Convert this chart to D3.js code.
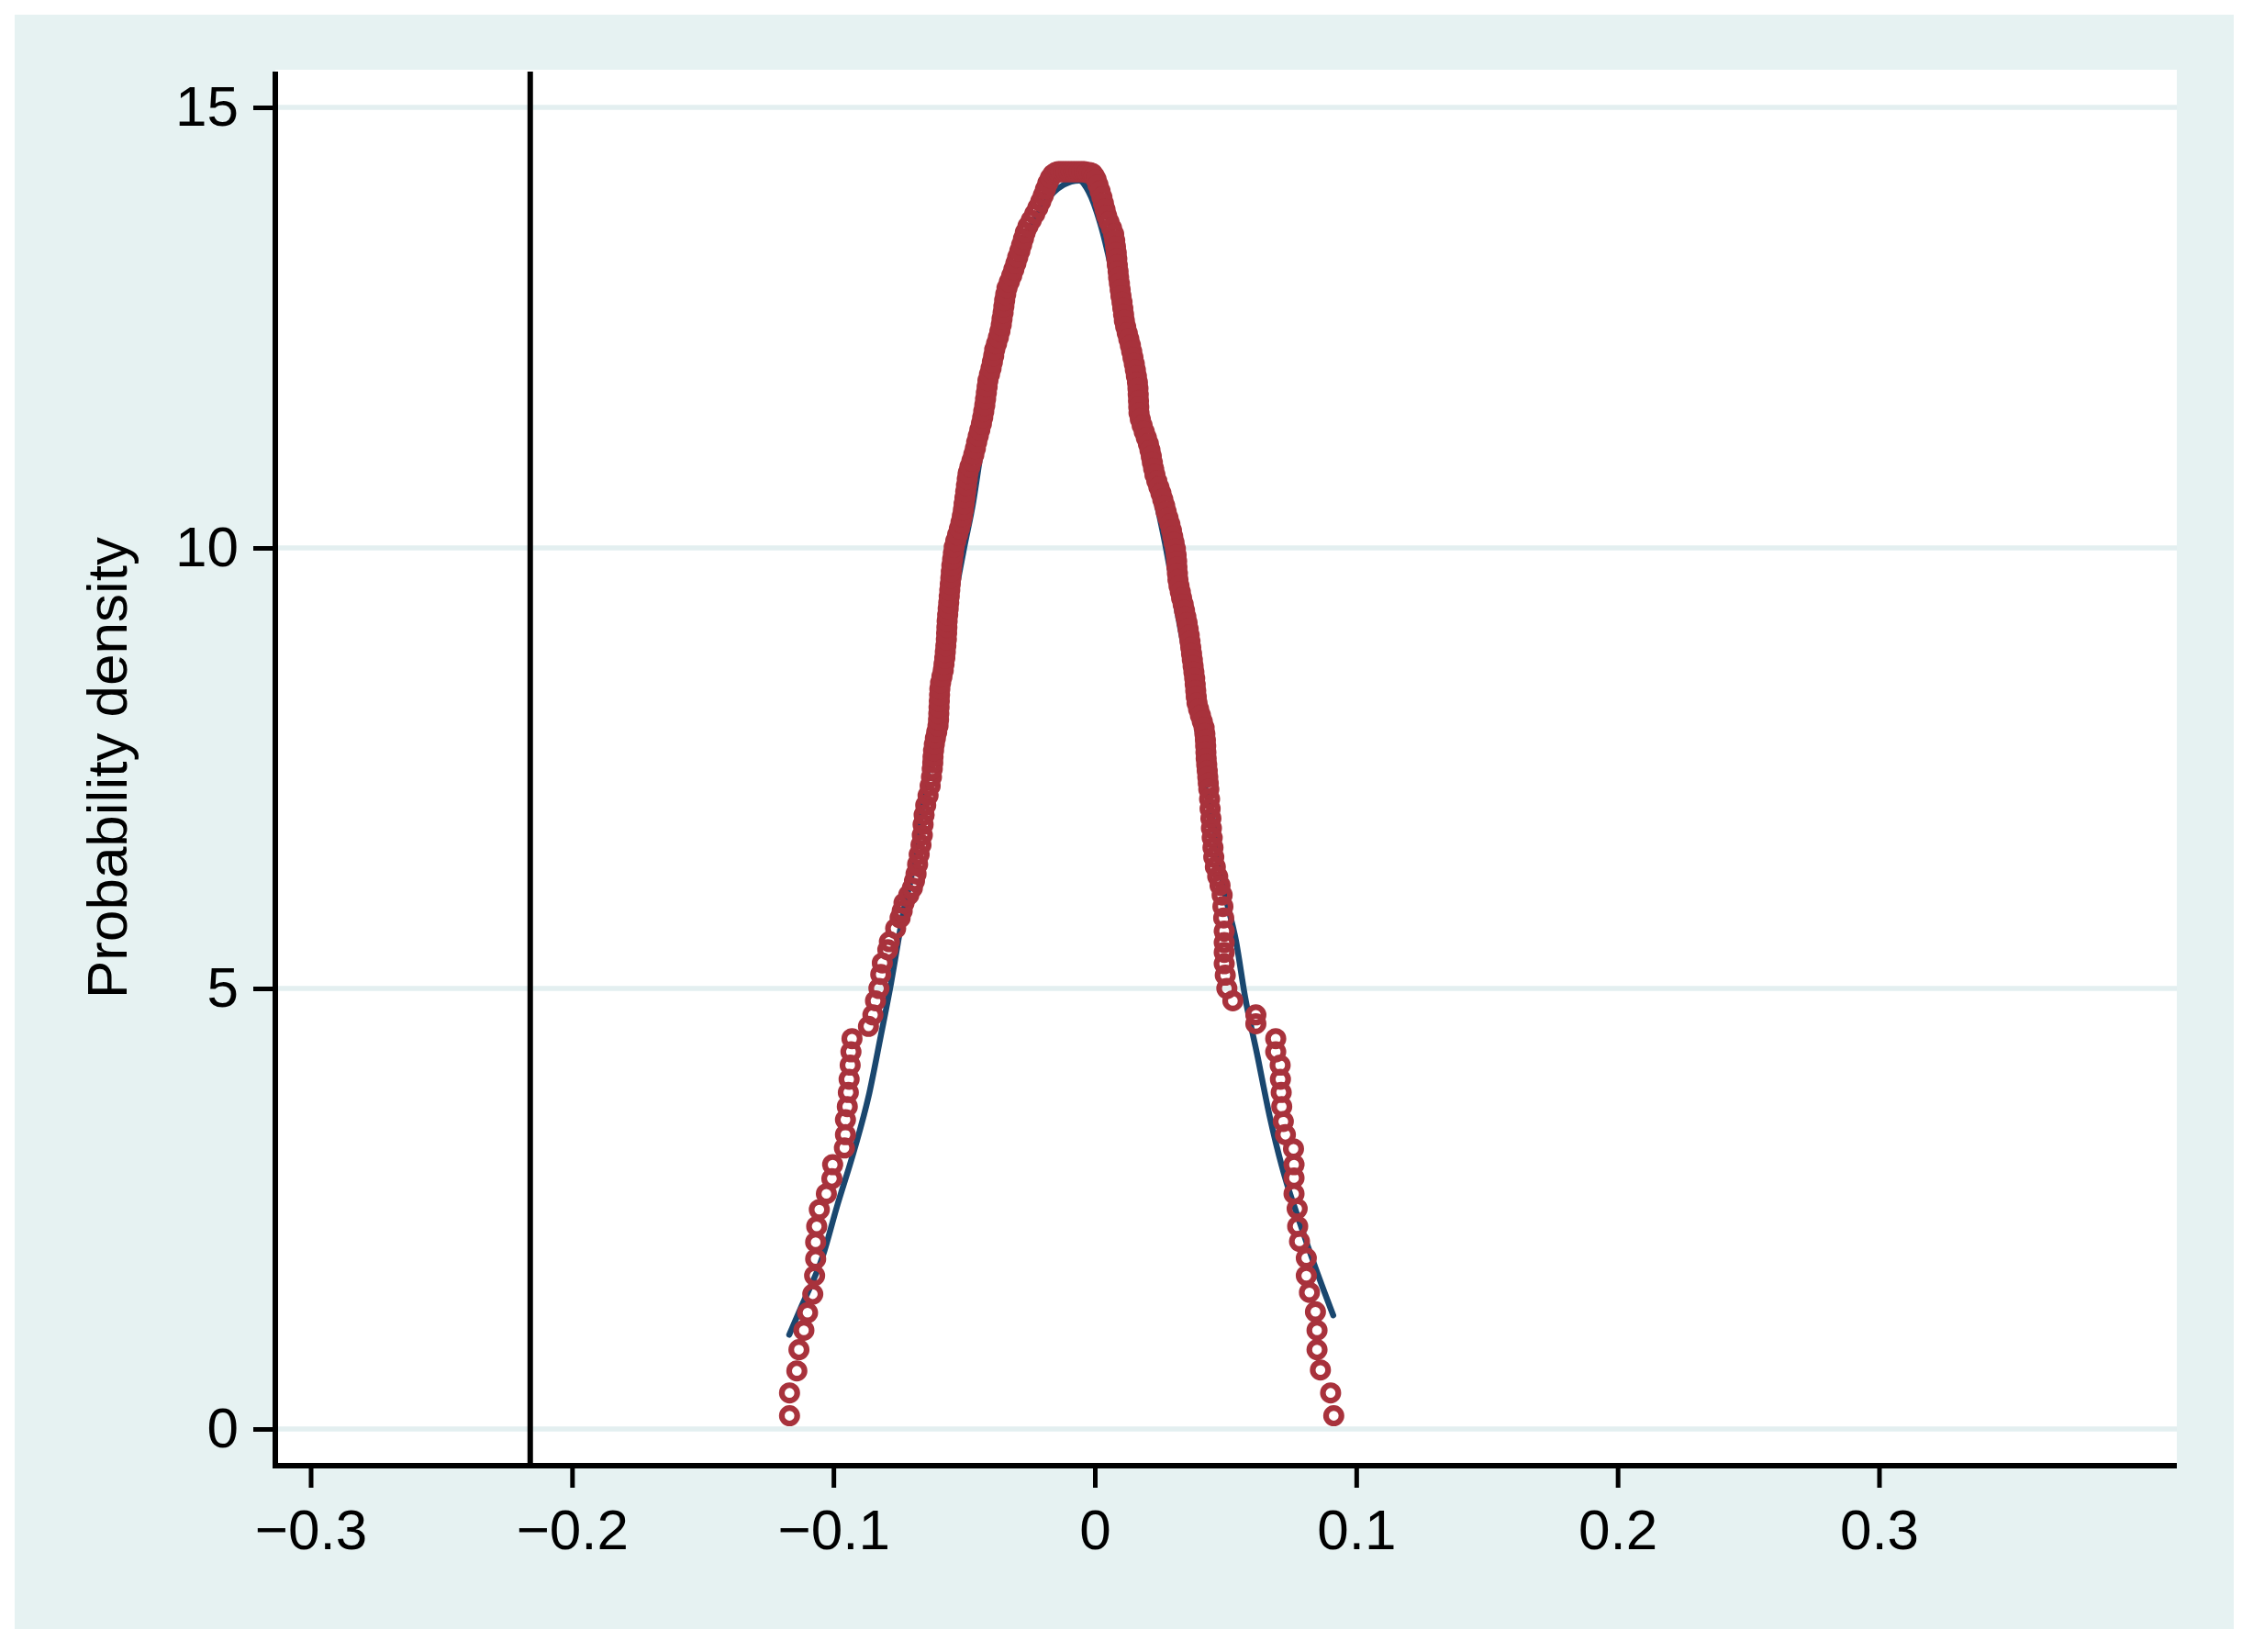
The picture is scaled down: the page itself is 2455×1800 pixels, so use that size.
<!DOCTYPE html>
<html><head><meta charset="utf-8">
<script src="https://cdn.jsdelivr.net/npm/d3@7"></script>
<style>
body{margin:0;background:#fff;}
svg{display:block;}
</style>
</head><body>
<svg id="chart" width="2455" height="1800"></svg>
<script>
// ---------------- DATA ----------------
const xTicks = [-0.3, -0.2, -0.1, 0, 0.1, 0.2, 0.3];
const yTicks = [0, 5, 10, 15];
const yTitle = "Probability density";
const referenceLineX = -0.216;

// hollow-circle series: [x, density]
const leftTail = [
  [-0.1168,0.15],[-0.1168,0.41],[-0.1140,0.66],[-0.1132,0.90],[-0.1113,1.12],[-0.1099,1.32],
  [-0.1079,1.53],[-0.1072,1.74],[-0.1068,1.93],[-0.1068,2.12],[-0.1064,2.30],[-0.1054,2.49],
  [-0.1027,2.67],[-0.1006,2.84],[-0.1003,3.00],[-0.0958,3.19],[-0.0954,3.34],[-0.0954,3.51],
  [-0.0947,3.66],[-0.0943,3.82],[-0.0940,3.97],[-0.0936,4.13],[-0.0933,4.28],[-0.0929,4.43],
  [-0.0866,4.57],[-0.0849,4.70],[-0.0839,4.86],[-0.0826,5.00],[-0.0819,5.16],[-0.0813,5.29],
  [-0.0792,5.44],[-0.0786,5.53],[-0.0762,5.68],[-0.0745,5.80],[-0.0737,5.88],[-0.0730,5.97],
  [-0.0712,6.06],[-0.0698,6.14],[-0.0690,6.22],[-0.0684,6.30]
];
const leftBody = [
  [-0.0678,6.41],[-0.0672,6.52],[-0.0665,6.63],[-0.0660,6.74],[-0.0657,6.86],[-0.0653,6.97],
  [-0.0647,7.08],[-0.0638,7.19],[-0.0630,7.30],[-0.0625,7.40],
  [-0.0622,7.49],[-0.0620,7.56],[-0.0619,7.63],[-0.0617,7.70],[-0.0614,7.77],[-0.0610,7.84],
  [-0.0605,7.91],[-0.0600,7.98],[-0.0598,8.05],[-0.0597,8.12],[-0.0596,8.19],[-0.0595,8.26],
  [-0.0594,8.33],[-0.0593,8.40],[-0.0590,8.47],[-0.0585,8.54],[-0.0580,8.61],[-0.0577,8.68],
  [-0.0574,8.75],[-0.0572,8.82],[-0.0570,8.89],[-0.0568,8.96],[-0.0567,9.03],[-0.0566,9.10],
  [-0.0565,9.17],[-0.0563,9.24],[-0.0561,9.31],[-0.0559,9.38],[-0.0557,9.45],[-0.0555,9.52],
  [-0.0553,9.59],[-0.0551,9.66],[-0.0549,9.73],[-0.0547,9.80],[-0.0544,9.87],[-0.0541,9.94],
  [-0.0538,10.01],[-0.0532,10.08],[-0.0525,10.15],[-0.0518,10.22],[-0.0512,10.29],[-0.0507,10.36],
  [-0.0503,10.43],[-0.0500,10.50],[-0.0497,10.57],[-0.0494,10.64],[-0.0491,10.71],[-0.0488,10.78],
  [-0.0485,10.85],[-0.0478,10.92],[-0.0470,10.99],[-0.0463,11.06],[-0.0457,11.13],[-0.0452,11.20],
  [-0.0446,11.27],[-0.0440,11.34],[-0.0434,11.41],[-0.0429,11.48],[-0.0425,11.55],[-0.0421,11.62],
  [-0.0418,11.69],[-0.0415,11.76],[-0.0412,11.83],[-0.0409,11.90],[-0.0403,11.97],[-0.0397,12.04],
  [-0.0392,12.11],[-0.0387,12.18],[-0.0383,12.25],[-0.0376,12.32],[-0.0369,12.39],[-0.0363,12.46],
  [-0.0358,12.53],[-0.0355,12.60],[-0.0351,12.67],[-0.0348,12.74],[-0.0345,12.81],[-0.0341,12.88],
  [-0.0336,12.95],[-0.0327,13.02],[-0.0318,13.09],[-0.0310,13.16],[-0.0302,13.23],[-0.0295,13.30],
  [-0.0287,13.37],[-0.0280,13.44],[-0.0273,13.51],[-0.0266,13.58],[-0.0256,13.65],[-0.0243,13.72],
  [-0.0230,13.79],[-0.0218,13.86],[-0.0207,13.93],[-0.0197,14.00],[-0.0189,14.07],[-0.0180,14.14],
  [-0.0170,14.20],[-0.0160,14.24],[-0.0150,14.26]
];
const peakTop = [
  [-0.0140,14.27],[-0.0130,14.27],[-0.0120,14.27],[-0.0110,14.27],[-0.0100,14.27],[-0.0090,14.27],
  [-0.0080,14.27],[-0.0070,14.27],[-0.0060,14.27],[-0.0050,14.27],[-0.0040,14.27],[-0.0030,14.26],
  [-0.0020,14.26],[-0.0010,14.25],[-0.0002,14.22],[0.0005,14.18],[0.0012,14.12]
];
const rightBody = [
  [0.0020,14.05],[0.0027,13.98],[0.0033,13.91],[0.0039,13.84],[0.0045,13.77],[0.0054,13.70],
  [0.0064,13.63],[0.0072,13.56],[0.0076,13.49],[0.0079,13.42],[0.0082,13.35],[0.0084,13.28],
  [0.0086,13.21],[0.0089,13.14],[0.0091,13.07],[0.0094,13.00],[0.0097,12.93],[0.0100,12.86],
  [0.0104,12.79],[0.0107,12.72],[0.0110,12.65],[0.0113,12.58],[0.0118,12.51],[0.0124,12.44],
  [0.0130,12.37],[0.0136,12.30],[0.0141,12.23],[0.0146,12.16],[0.0151,12.09],[0.0155,12.02],
  [0.0159,11.95],[0.0163,11.88],[0.0165,11.81],[0.0166,11.74],[0.0167,11.67],[0.0168,11.60],
  [0.0169,11.53],[0.0174,11.46],[0.0181,11.39],[0.0189,11.32],[0.0197,11.25],[0.0205,11.18],
  [0.0211,11.11],[0.0216,11.04],[0.0220,10.97],[0.0225,10.90],[0.0230,10.83],[0.0237,10.76],
  [0.0245,10.69],[0.0253,10.62],[0.0260,10.55],[0.0267,10.48],[0.0273,10.41],[0.0280,10.34],
  [0.0287,10.27],[0.0293,10.20],[0.0298,10.13],[0.0303,10.06],[0.0308,9.99],[0.0311,9.92],
  [0.0313,9.85],[0.0314,9.78],[0.0316,9.71],[0.0318,9.64],[0.0322,9.57],[0.0327,9.50],
  [0.0332,9.43],[0.0338,9.36],[0.0343,9.29],[0.0348,9.22],[0.0353,9.15],[0.0357,9.08],
  [0.0361,9.01],[0.0364,8.94],[0.0367,8.87],[0.0370,8.80],[0.0373,8.73],[0.0376,8.66],
  [0.0379,8.59],[0.0382,8.52],[0.0384,8.45],[0.0386,8.38],[0.0388,8.31],[0.0391,8.24],
  [0.0397,8.17],[0.0404,8.10],[0.0411,8.03],[0.0418,7.96],[0.0421,7.89],[0.0423,7.82],
  [0.0424,7.75],[0.0425,7.68],[0.0426,7.61],[0.0428,7.54],[0.0430,7.47],[0.0432,7.40],
  [0.0434,7.33],[0.0436,7.26],
  [0.0439,7.15],[0.0441,7.04],[0.0444,6.93],[0.0446,6.82],[0.0449,6.71],[0.0452,6.60],
  [0.0455,6.49],[0.0461,6.38]
];
const rightTail = [
  [0.0470,6.27],[0.0479,6.17],[0.0487,6.06],[0.0490,5.93],[0.0493,5.80],[0.0495,5.65],
  [0.0495,5.52],[0.0495,5.41],[0.0495,5.28],[0.0499,5.15],[0.0505,5.00],[0.0528,4.86],
  [0.0616,4.70],[0.0616,4.60],[0.0692,4.43],[0.0692,4.28],[0.0709,4.13],[0.0710,3.97],
  [0.0713,3.82],[0.0715,3.66],[0.0721,3.49],[0.0729,3.34],[0.0760,3.18],[0.0762,3.00],
  [0.0762,2.85],[0.0762,2.67],[0.0774,2.50],[0.0776,2.30],[0.0783,2.13],[0.0809,1.94],
  [0.0809,1.74],[0.0821,1.55],[0.0844,1.33],[0.0850,1.12],[0.0850,0.90],[0.0863,0.67],
  [0.0902,0.41],[0.0914,0.15]
];

// smooth line series: [x, density]
const curvePoints = [
  [-0.1169,1.07],[-0.1121,1.40],[-0.1041,1.96],[-0.0987,2.52],[-0.0920,3.17],[-0.0866,3.77],
  [-0.0819,4.46],[-0.0779,5.07],[-0.0752,5.54],[-0.0725,5.98],[-0.0707,6.19],[-0.0678,6.71],
  [-0.0643,7.40],[-0.0605,8.10],[-0.0572,8.79],[-0.0535,9.45],[-0.0500,10.00],[-0.0467,10.49],
  [-0.0435,11.10],[-0.0395,11.75],[-0.0355,12.40],[-0.0318,13.00],[-0.0265,13.50],[-0.0195,13.90],
  [-0.0120,14.12],[-0.0060,14.17],[-0.0025,14.05],[0.0020,13.69],[0.0075,13.00],[0.0125,12.20],
  [0.0165,11.40],[0.0222,10.70],[0.0270,10.03],[0.0320,9.20],[0.0381,8.18],[0.0417,7.36],
  [0.0452,6.91],[0.0469,6.55],[0.0499,6.06],[0.0540,5.54],[0.0575,4.90],[0.0621,4.25],
  [0.0668,3.56],[0.0727,2.86],[0.0774,2.43],[0.0844,1.83],[0.0912,1.29]
];

// ---------------- DRAWING ----------------
const FONT = "Arial, 'Liberation Sans', Helvetica, sans-serif";
const BG = "#e6f2f2";
const GRID = "#e3eff0";
const RED = "#a8323c";
const BLUE = "#1a476f";

const svg = d3.select("#chart");
const plot = {left: 300, right: 2372, top: 76, bottom: 1597};

svg.append("rect").attr("x", 0).attr("y", 0).attr("width", 2455).attr("height", 1800).attr("fill", "#fff");
svg.append("rect").attr("x", 16).attr("y", 16).attr("width", 2418).attr("height", 1759).attr("fill", BG);
svg.append("rect").attr("x", plot.left).attr("y", plot.top)
  .attr("width", plot.right - plot.left).attr("height", plot.bottom - plot.top).attr("fill", "#fff");

const x = d3.scaleLinear().domain([-0.3, 0.3]).range([338.5, 2047.5]);
const y = d3.scaleLinear().domain([0, 15]).range([1557, 117]);

// gridlines
svg.append("g").selectAll("line").data(yTicks).join("line")
  .attr("x1", plot.left).attr("x2", plot.right)
  .attr("y1", d => y(d)).attr("y2", d => y(d))
  .attr("stroke", GRID).attr("stroke-width", 5.5);

// smooth curve
const line = d3.line().x(d => x(d[0])).y(d => y(d[1])).curve(d3.curveMonotoneX);
svg.append("path").datum(curvePoints).attr("d", line)
  .attr("fill", "none").attr("stroke", BLUE).attr("stroke-width", 6.5)
  .attr("stroke-linecap", "round").attr("stroke-linejoin", "round");

// reference vertical line
svg.append("line").attr("x1", x(referenceLineX)).attr("x2", x(referenceLineX))
  .attr("y1", plot.top + 2).attr("y2", plot.bottom)
  .attr("stroke", "#000").attr("stroke-width", 6);

// hollow circles
const points = [].concat(leftTail, leftBody, peakTop, rightBody, rightTail);
svg.append("g").selectAll("circle").data(points).join("circle")
  .attr("cx", d => x(d[0])).attr("cy", d => y(d[1])).attr("r", 8.4)
  .attr("fill", "none").attr("stroke", RED).attr("stroke-width", 6.2);

// axes
const fmt = d3.format("");
const xAxis = svg.append("g").attr("transform", `translate(0,${plot.bottom})`)
  .call(d3.axisBottom(x).tickValues(xTicks).tickFormat(fmt)
    .tickSizeInner(24).tickSizeOuter(0).tickPadding(23));
const yAxis = svg.append("g").attr("transform", `translate(${plot.left},0)`)
  .call(d3.axisLeft(y).tickValues(yTicks).tickFormat(fmt)
    .tickSizeInner(24).tickSizeOuter(0).tickPadding(16));
[xAxis, yAxis].forEach(g => {
  g.select(".domain").remove();
  g.attr("font-family", FONT).attr("font-size", 62);
  g.selectAll(".tick line").attr("stroke", "#000").attr("stroke-width", 5);
  g.selectAll(".tick text").attr("fill", "#000");
});

// axis lines
svg.append("line").attr("x1", plot.left).attr("x2", plot.left)
  .attr("y1", plot.top + 2).attr("y2", plot.bottom + 3)
  .attr("stroke", "#000").attr("stroke-width", 6);
svg.append("line").attr("x1", plot.left - 3).attr("x2", plot.right)
  .attr("y1", plot.bottom).attr("y2", plot.bottom)
  .attr("stroke", "#000").attr("stroke-width", 6);

// y title
svg.append("text").attr("transform", `translate(138,${(plot.top + plot.bottom) / 2}) rotate(-90)`)
  .attr("text-anchor", "middle").attr("font-family", FONT).attr("font-size", 62)
  .attr("fill", "#000").text(yTitle);
</script>
</body></html>
